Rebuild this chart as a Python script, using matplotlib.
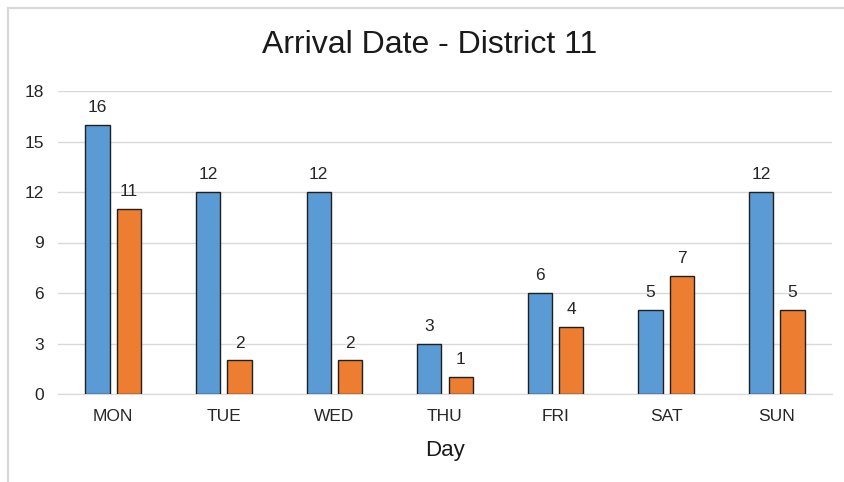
import matplotlib
matplotlib.use("Agg")
import matplotlib.pyplot as plt
import numpy as np
from matplotlib.patches import Rectangle

# data
days = ["MON", "TUE", "WED", "THU", "FRI", "SAT", "SUN"]
series_a = [16, 12, 12, 3, 6, 5, 12]
series_b = [11, 2, 2, 1, 4, 7, 5]
yticks = [0, 3, 6, 9, 12, 15, 18]

plt.rcParams["font.family"] = ["Liberation Sans", "DejaVu Sans"]

W, H = 845, 482
fig = plt.figure(figsize=(W / 100, H / 100), dpi=100)
ax = fig.add_axes([58 / W, 1 - 394 / H, (832 - 58) / W, (394 - 91) / H])

x = np.arange(len(days))
bw = 0.22
off = 0.142
b1 = ax.bar(x - off, series_a, bw, color="#5B9BD5", edgecolor="#1f1f1f", linewidth=1.0, zorder=3)
b2 = ax.bar(x + off, series_b, bw, color="#ED7D31", edgecolor="#1f1f1f", linewidth=1.0, zorder=3)

for bars in (b1, b2):
    for r in bars:
        ax.annotate(f"{int(r.get_height())}", (r.get_x() + r.get_width() / 2, r.get_height()),
                    xytext=(0, 7), textcoords="offset points", ha="center", va="bottom",
                    fontsize=12.5, color="#262626")

ax.set_xlim(-0.5, len(days) - 0.5)
ax.set_ylim(0, 18)
ax.set_yticks(yticks)
ax.set_xticks(x)
ax.set_xticklabels(days)
ax.tick_params(axis="both", length=0, labelsize=12.5, colors="#262626")
ax.tick_params(axis="y", pad=10)
ax.tick_params(axis="x", pad=11)
ax.grid(axis="y", color="#d9d9d9", linewidth=1.0, zorder=0)
for s in ["top", "right", "left"]:
    ax.spines[s].set_visible(False)
ax.spines["bottom"].set_color("#d9d9d9")
ax.set_xlabel("Day", fontsize=16, color="#1a1a1a", labelpad=11)

fig.text(430 / W, 1 - 45 / H, "Arrival Date - District 11", ha="center", va="center",
         fontsize=23, color="#1a1a1a")

# outer chart frame (partly cut off on the right and bottom)
fig.patches.append(Rectangle((8 / W, -0.05), 1.1, 1 - 8 / H + 0.05, transform=fig.transFigure,
                             fill=False, edgecolor="#d9d9d9", linewidth=1.6))

fig.savefig("out.png", dpi=100)
